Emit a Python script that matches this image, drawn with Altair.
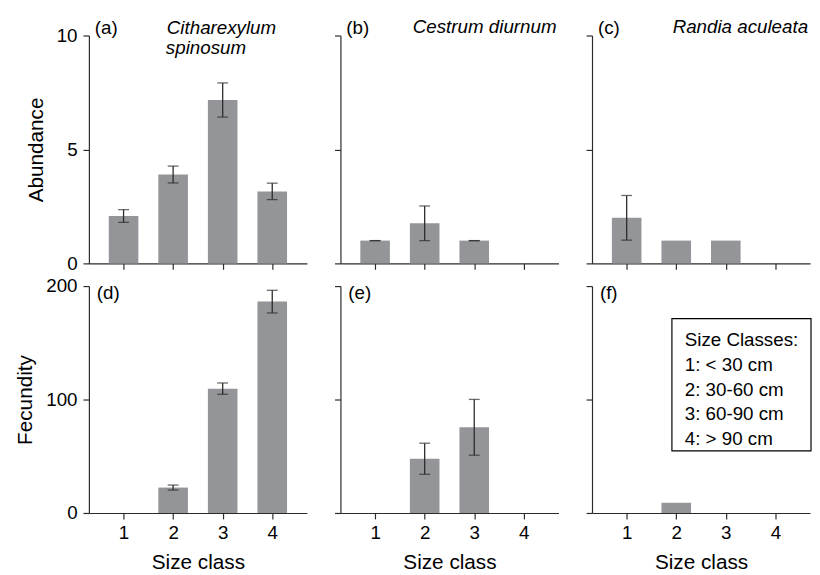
import altair as alt
import pandas as pd

# ---------------- data ----------------
size_classes = [1, 2, 3, 4]
species_line1 = ["Citharexylum", "Cestrum diurnum", "Randia aculeata"]
species_line2 = ["spinosum", "", ""]
panel_letters = [["(a)", "(b)", "(c)"], ["(d)", "(e)", "(f)"]]
row_titles = ["Abundance", "Fecundity"]
row_ticks = [[0, 5, 10], [0, 100, 200]]
row_domains = [[0, 10], [0, 200]]

abundance_mean = [[2.08, 3.90, 7.17, 3.16],
                  [1.0, 1.76, 1.0, 0.0],
                  [2.0, 1.0, 1.0, 0.0]]
abundance_se = [[0.28, 0.37, 0.75, 0.36],
                [0.0, 0.76, 0.0, None],
                [0.98, None, None, None]]
fecundity_mean = [[0.0, 22.4, 109.6, 186.3],
                  [0.0, 47.8, 75.5, 0.0],
                  [0.0, 9.0, 0.0, 0.0]]
fecundity_se = [[None, 2.2, 5.0, 10.0],
                [None, 13.7, 24.6, None],
                [None, None, None, None]]

legend_lines = ["Size Classes:", "1: < 30 cm", "2: 30-60 cm", "3: 60-90 cm", "4: > 90 cm"]

means = [abundance_mean, fecundity_mean]
ses = [abundance_se, fecundity_se]

# ---------------- styling ----------------
FONT = "Liberation Sans"
BAR = "#939598"
INK = "#2b2b2b"
W, H = 221, 231


def text_layer(txt, x, y, align="left", italic=False, size=19, baseline="alphabetic"):
    return alt.Chart(pd.DataFrame({"t": [txt]})).mark_text(
        text=txt, align=align, baseline=baseline, font=FONT, fontSize=size,
        fontStyle="italic" if italic else "normal", color="black"
    ).encode(x=alt.value(x), y=alt.value(y))


def panel(row, col):
    mean = means[row][col]
    se = ses[row][col]
    df = pd.DataFrame({"size": size_classes, "mean": mean,
                       "se": [float("nan") if s is None else s for s in se]})
    df["lo"] = df["mean"] - df["se"]
    df["hi"] = df["mean"] + df["se"]
    bars = df[df["mean"] > 0]
    errs = df[df["se"].notna()]

    xaxis_kw = dict(values=size_classes, labels=(row == 1), grid=False,
                    labelPadding=5, titlePadding=9)
    if row == 1:
        xaxis_kw["title"] = "Size class"
    else:
        xaxis_kw["title"] = ""
    yaxis_kw = dict(values=row_ticks[row], labels=(col == 0), grid=False,
                    labelPadding=6, titlePadding=10)
    yaxis_kw["title"] = row_titles[row] if col == 0 else ""

    xenc = lambda: alt.X("size:Q", scale=alt.Scale(domain=[0.4, 4.6], nice=False, zero=False),
                         axis=alt.Axis(**xaxis_kw))
    yscale = alt.Scale(domain=row_domains[row], nice=False)

    layers = [
        alt.Chart(bars).mark_bar(size=30, color=BAR).encode(
            x=xenc(), y=alt.Y("mean:Q", scale=yscale, axis=alt.Axis(**yaxis_kw)))
    ]
    if len(errs):
        layers.append(alt.Chart(errs).mark_rule(color=INK, strokeWidth=1.3).encode(
            x=xenc(), y=alt.Y("lo:Q", scale=yscale, axis=alt.Axis(**yaxis_kw)), y2="hi:Q"))
        for f in ["lo", "hi"]:
            layers.append(alt.Chart(errs).mark_tick(color=INK, orient="horizontal",
                                                    size=11, thickness=1.3).encode(
                x=xenc(), y=alt.Y(f + ":Q", scale=yscale, axis=alt.Axis(**yaxis_kw))))

    # panel letter
    if row == 0:
        layers.append(text_layer(panel_letters[row][col], 6, -2))
    else:
        layers.append(text_layer(panel_letters[row][col], 8, 13))

    # species names
    if row == 0:
        if species_line2[col]:
            layers.append(text_layer(species_line1[col], 79, -2, italic=True, size=19))
            layers.append(text_layer(species_line2[col], 78, 19, italic=True, size=19))
        else:
            layers.append(text_layer(species_line1[col], 219, -3, align="right", italic=True, size=19))

    # size-class legend box
    if row == 1 and col == 2:
        layers.append(alt.Chart(pd.DataFrame({"a": [0]})).mark_rect(
            fill="white", stroke="black", strokeWidth=1.2).encode(
            x=alt.value(81), x2=alt.value(222), y=alt.value(33), y2=alt.value(167)))
        for i, line in enumerate(legend_lines):
            layers.append(text_layer(line, 94, 55 + 25 * i, baseline="middle"))

    return alt.layer(*layers).properties(width=W, height=H if row == 0 else 230)


panels = [panel(r, c) for r in range(2) for c in range(3)]

chart = alt.concat(*panels, columns=3, spacing={"row": 23, "column": 34}, bounds="flush").properties(
    padding={"left": 7, "top": 6, "right": 0, "bottom": 0}
).configure_view(stroke=None).configure_axis(
    domainColor=INK, domainWidth=1.2, tickColor=INK, tickWidth=1.2, tickSize=6,
    labelFont=FONT, labelFontSize=19, labelColor="black",
    titleFont=FONT, titleFontSize=21, titleFontWeight="normal", titleColor="black"
)

chart.save("out.html", embed_options={"renderer": "svg", "actions": False})
